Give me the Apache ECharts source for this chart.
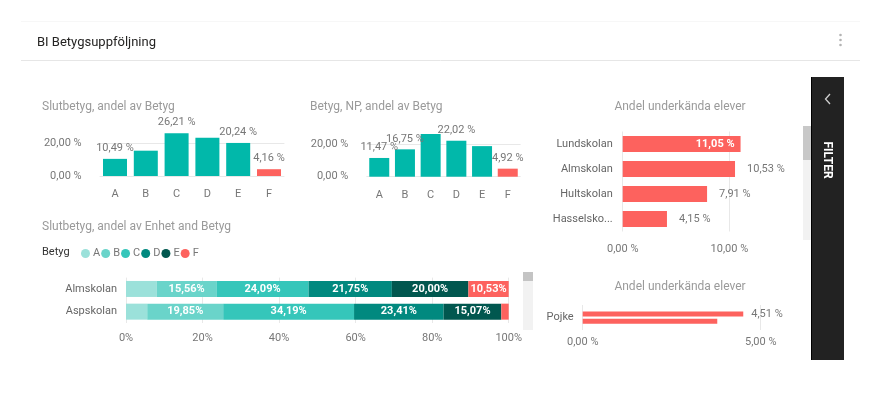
<!DOCTYPE html>
<html>
<head>
<meta charset="utf-8">
<script src="https://cdn.jsdelivr.net/npm/echarts@6/dist/echarts.min.js"></script>
<style>
html,body{margin:0;padding:0;background:#fff;}
#main{width:882px;height:395px;}
</style>
</head>
<body>
<div id="main"></div>
<script>
// ---- data ----
const grades = ['A', 'B', 'C', 'D', 'E', 'F'];
const slutbetyg = [10.49, 15.50, 26.21, 23.40, 20.24, 4.16];
const slutbetygLabelShown = [true, false, true, false, true, true];
const npBetyg = [11.47, 16.75, 26.12, 22.02, 18.72, 4.92];
const npLabelShown = [true, true, false, true, false, true];
const skolor = ['Lundskolan', 'Almskolan', 'Hultskolan', 'Hasselskolan'];
const underkanda = [11.05, 10.53, 7.91, 4.15];
const enheter = ['Almskolan', 'Aspskolan'];
const stackA = [8.07, 5.55];
const stackB = [15.56, 19.85];
const stackC = [24.09, 34.19];
const stackD = [21.75, 23.41];
const stackE = [20.00, 15.07];
const stackF = [10.53, 1.93];
const kon = ['Pojke'];
const konUnderkandaA = [4.51];
const konUnderkandaB = [3.78];

const FONT = 'Roboto';
const GRAY = '#777777';
const GRID = '#e8e8e8';
const TEAL = '#01B8AA';
const RED = '#FD625E';
const stackColors = ['#9BE1DA', '#6AD4CA', '#35C6BA', '#01897F', '#01574F', '#FD625E'];

function pct2(v) { return v.toFixed(2).replace('.', ',') + ' %'; }
function pctStack(v) { return v.toFixed(2).replace('.', ',') + '%'; }

const chart = echarts.init(document.getElementById('main'), null, {renderer: 'canvas'});

const titleStyle = {fontFamily: FONT, fontSize: 12, color: '#9a9a9a', fontWeight: 'normal'};

const valueAxisY = (gi, max) => ({
  type: 'value', gridIndex: gi, min: 0, max: max, interval: 20,
  axisLine: {show: false}, axisTick: {show: false},
  axisLabel: {fontFamily: FONT, fontSize: 11, color: GRAY, margin: 18, showMaxLabel: false,
    formatter: v => pct2(v)},
  splitLine: {lineStyle: {color: [GRID, GRID, 'rgba(0,0,0,0)'], width: 1}}
});
const catAxisX = (gi) => ({
  type: 'category', gridIndex: gi, data: grades,
  axisLine: {show: false}, axisTick: {show: false},
  axisLabel: {fontFamily: FONT, fontSize: 11, color: GRAY, margin: 13}
});

const stacks = [stackA, stackB, stackC, stackD, stackE, stackF];

const option = {
  animation: false,
  textStyle: {fontFamily: FONT},
  title: [
    {text: 'BI Betygsuppföljning', left: 37, top: 36, padding: 0, textStyle: {fontFamily: FONT, fontSize: 13, color: '#252423', fontWeight: 'normal'}},
    {text: 'Slutbetyg, andel av Betyg', left: 42, top: 101, padding: 0, textStyle: titleStyle},
    {text: 'Betyg, NP, andel av Betyg', left: 310, top: 101, padding: 0, textStyle: titleStyle},
    {text: 'Andel underkända elever', left: 680, top: 101, padding: 0, textAlign: 'center', textStyle: titleStyle},
    {text: 'Slutbetyg, andel av Enhet and Betyg', left: 42, top: 221, padding: 0, textStyle: titleStyle},
    {text: 'Betyg', left: 42, top: 247, padding: 0, textStyle: {fontFamily: FONT, fontSize: 11, color: '#333', fontWeight: 'normal'}},
    {text: 'Andel underkända elever', left: 680, top: 281, padding: 0, textAlign: 'center', textStyle: titleStyle}
  ],
  legend: {
    data: grades, left: 81, top: 248, padding: 0, icon: 'circle', itemWidth: 9, itemHeight: 9, itemGap: 1,
    textStyle: {fontFamily: FONT, fontSize: 11, color: GRAY, padding: [0, 0, 0, -2]}
  },
  grid: [
    {left: 99.6, top: 127, width: 184.8, height: 49},
    {left: 366.4, top: 127.7, width: 154.2, height: 49},
    {left: 622.7, top: 131.5, width: 160, height: 100},
    {left: 126, top: 277.6, width: 382.7, height: 45.4},
    {left: 582.7, top: 305, width: 213.6, height: 25}
  ],
  xAxis: [
    catAxisX(0),
    catAxisX(1),
    {type: 'value', gridIndex: 2, min: 0, max: 15, interval: 10,
      axisLine: {show: false}, axisTick: {show: false},
      axisLabel: {fontFamily: FONT, fontSize: 11, color: GRAY, margin: 12, showMaxLabel: false, formatter: v => pct2(v)},
      splitLine: {lineStyle: {color: [GRID, GRID, 'rgba(0,0,0,0)']}}},
    {type: 'value', gridIndex: 3, min: 0, max: 100, interval: 20,
      axisLine: {show: false}, axisTick: {show: false},
      axisLabel: {fontFamily: FONT, fontSize: 11, color: GRAY, margin: 10, formatter: v => v + '%'},
      splitLine: {lineStyle: {color: GRID}}},
    {type: 'value', gridIndex: 4, min: 0, max: 6, interval: 5,
      axisLine: {show: false}, axisTick: {show: false},
      axisLabel: {fontFamily: FONT, fontSize: 11, color: GRAY, margin: 7, showMaxLabel: false, formatter: v => pct2(v)},
      splitLine: {lineStyle: {color: [GRID, GRID, 'rgba(0,0,0,0)']}}}
  ],
  yAxis: [
    valueAxisY(0, 30),
    valueAxisY(1, 30),
    {type: 'category', gridIndex: 2, data: skolor, inverse: true,
      axisLine: {show: false}, axisTick: {show: false},
      axisLabel: {fontFamily: FONT, fontSize: 11, color: '#666', margin: 10,
        formatter: v => v.length > 10 ? v.slice(0, 9) + '...' : v}},
    {type: 'category', gridIndex: 3, data: enheter, inverse: true,
      axisLine: {show: false}, axisTick: {show: false},
      axisLabel: {fontFamily: FONT, fontSize: 11, color: '#666', margin: 9}},
    {type: 'category', gridIndex: 4, data: kon, inverse: true,
      axisLine: {show: false}, axisTick: {show: false},
      axisLabel: {fontFamily: FONT, fontSize: 11, color: '#666', margin: 9, padding: [0, 0, 7, 0]}}
  ],
  series: [
    {type: 'bar', xAxisIndex: 0, yAxisIndex: 0, data: slutbetyg, barWidth: 24,
      itemStyle: {color: p => grades[p.dataIndex] === 'F' ? RED : TEAL},
      label: {show: true, position: 'top', distance: 5, fontFamily: FONT, fontSize: 11, color: GRAY,
        formatter: p => slutbetygLabelShown[p.dataIndex] ? pct2(p.value) : ''}},
    {type: 'bar', xAxisIndex: 1, yAxisIndex: 1, data: npBetyg, barWidth: 20,
      itemStyle: {color: p => grades[p.dataIndex] === 'F' ? RED : TEAL},
      label: {show: true, position: 'top', distance: 5, fontFamily: FONT, fontSize: 11, color: GRAY,
        formatter: p => npLabelShown[p.dataIndex] ? pct2(p.value) : ''}},
    {type: 'bar', xAxisIndex: 2, yAxisIndex: 2, barWidth: 16, itemStyle: {color: RED},
      data: underkanda.map((v, i) => i === 0
        ? {value: v, label: {position: 'insideRight', color: '#fff', fontWeight: 'bold', distance: 6}}
        : v),
      label: {show: true, position: 'right', distance: 12, fontFamily: FONT, fontSize: 11, color: GRAY,
        formatter: p => pct2(p.value)}},
    ...grades.map((g, k) => ({
      type: 'bar', name: g, stack: 'enhet', xAxisIndex: 3, yAxisIndex: 3, data: stacks[k], barWidth: 16,
      itemStyle: {color: stackColors[k]},
      label: {show: true, position: 'inside', fontFamily: FONT, fontSize: 11, fontWeight: 'bold', color: '#fff',
        formatter: p => p.value >= 9 ? pctStack(p.value) : ''}
    })),
    {type: 'bar', xAxisIndex: 4, yAxisIndex: 4, data: konUnderkandaA, barWidth: 5, barGap: '45%',
      itemStyle: {color: RED},
      label: {show: true, position: 'right', distance: 8, fontFamily: FONT, fontSize: 11, color: GRAY,
        formatter: p => pct2(p.value)}},
    {type: 'bar', xAxisIndex: 4, yAxisIndex: 4, data: konUnderkandaB, barWidth: 5,
      itemStyle: {color: RED}}
  ],
  graphic: [
    {type: 'line', shape: {x1: 21, y1: 21.5, x2: 860, y2: 21.5}, style: {stroke: '#f7f7f7', lineWidth: 1}},
    {type: 'line', shape: {x1: 21, y1: 60.5, x2: 860, y2: 60.5}, style: {stroke: '#e6e6e6', lineWidth: 1}},
    {type: 'circle', shape: {cx: 840.5, cy: 35, r: 1.3}, style: {fill: '#b3b3b3'}},
    {type: 'circle', shape: {cx: 840.5, cy: 40, r: 1.3}, style: {fill: '#b3b3b3'}},
    {type: 'circle', shape: {cx: 840.5, cy: 45, r: 1.3}, style: {fill: '#b3b3b3'}},
    // scrollbars
    {type: 'rect', shape: {x: 803, y: 126, width: 8, height: 114}, style: {fill: '#f2f2f2'}},
    {type: 'rect', shape: {x: 803, y: 126, width: 8, height: 34}, style: {fill: '#c8c8c8'}},
    {type: 'rect', shape: {x: 523, y: 272, width: 10, height: 58}, style: {fill: '#f2f2f2'}},
    {type: 'rect', shape: {x: 523, y: 272, width: 10, height: 9}, style: {fill: '#c4c4c4'}},
    // filter panel
    {type: 'rect', z: 50, shape: {x: 811, y: 77, width: 33, height: 283}, style: {fill: '#222222'}},
    {type: 'line', z: 51, shape: {x1: 811.5, y1: 77, x2: 811.5, y2: 360}, style: {stroke: '#000', lineWidth: 1}},
    {type: 'polyline', z: 51, shape: {points: [[830, 94], [825.5, 99], [830, 104]]},
      style: {stroke: '#cfcfcf', lineWidth: 1.3, fill: null}},
    {type: 'text', z: 51, x: 827, y: 160, rotation: -Math.PI / 2,
      style: {text: 'FILTER', fill: '#fff', font: 'bold 12px Roboto', textAlign: 'center', textVerticalAlign: 'middle'}}
  ]
};
chart.setOption(option);
</script>
</body>
</html>
